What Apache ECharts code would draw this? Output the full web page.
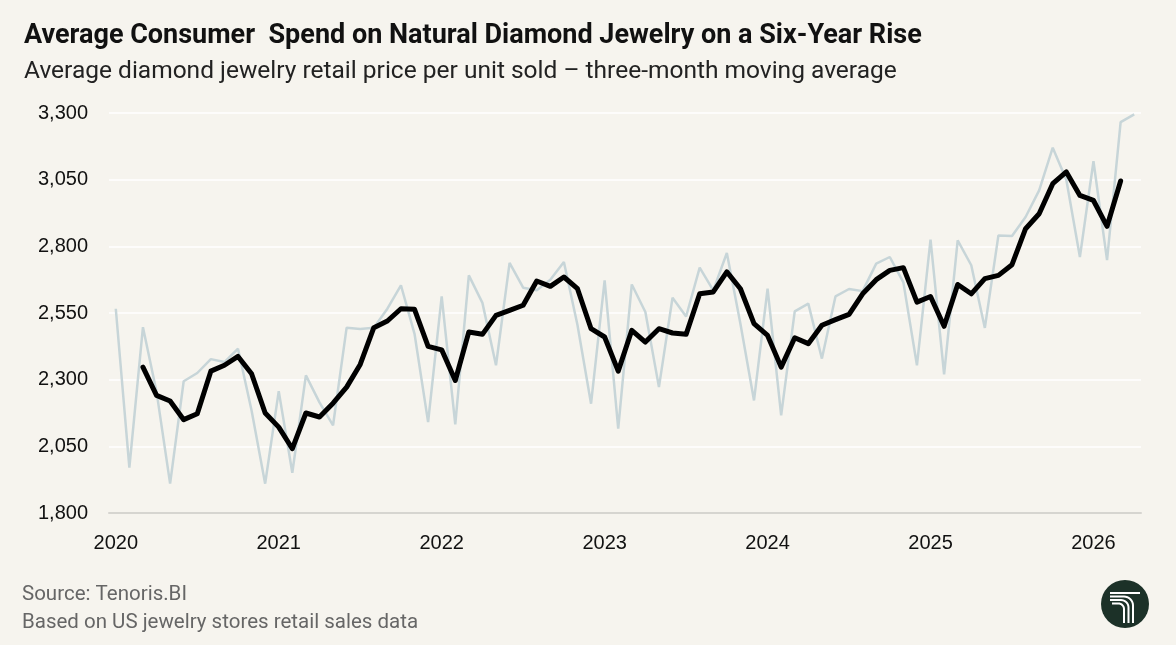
<!DOCTYPE html>
<html>
<head>
<meta charset="utf-8">
<script src="https://cdn.jsdelivr.net/npm/echarts@6/dist/echarts.min.js"></script>
<style>
html,body{margin:0;padding:0;background:#f6f4ee;}
#c{width:1176px;height:645px;}
</style>
</head>
<body>
<div id="c"></div>
<script>
// Months: Jan 2020 .. Apr 2026
const years = [2020, 2021, 2022, 2023, 2024, 2025, 2026];
const months = [];
years.forEach(y => { for (let m = 1; m <= 12; m++) { if (y === 2026 && m > 4) break; months.push(y + '-' + String(m).padStart(2, '0')); } });

// Monthly average retail price per unit (light line)
const monthlyPrice = [
  2566, 1970, 2497, 2255, 1910, 2294, 2325, 2377, 2366, 2416, 2184, 1910,
  2257, 1951, 2316, 2215, 2129, 2495, 2490, 2495, 2566, 2654, 2472, 2141,
  2612, 2132, 2691, 2588, 2354, 2738, 2645, 2635, 2675, 2741, 2505, 2210,
  2672, 2116, 2657, 2554, 2272, 2607, 2537, 2720, 2635, 2775, 2510, 2222,
  2641, 2166, 2556, 2585, 2379, 2612, 2640, 2632, 2735, 2760, 2665, 2354,
  2825, 2320, 2822, 2729, 2494, 2841, 2839, 2910, 3010, 3170, 3050, 2760,
  3119, 2748, 3266, 3295
];

// Three-month moving average (bold line), Mar 2020 .. Mar 2026
const movingAvg = [
  2347, 2241, 2220, 2150, 2172, 2332, 2354, 2387, 2322, 2175,
  2122, 2041, 2175, 2160, 2212, 2272, 2357, 2495, 2520, 2566, 2564, 2425,
  2412, 2297, 2479, 2470, 2541, 2560, 2579, 2670, 2650, 2685, 2641, 2491,
  2460, 2332, 2485, 2441, 2491, 2475, 2470, 2622, 2629, 2704, 2641, 2510,
  2466, 2347, 2457, 2435, 2504, 2525, 2545, 2622, 2675, 2710, 2720, 2591,
  2612, 2500, 2657, 2622, 2679, 2691, 2731, 2866, 2922, 3035, 3079, 2991,
  2972, 2875, 3045
];
const maOffset = [null, null];

const yTicks = { min: 1800, max: 3300, step: 250 };

// logo strokes: horizontal run then quarter-turn down into a vertical stroke
function logoStroke(x0, y, xv, r, yEnd) {
  const pts = [[x0, y]];
  const cx = xv - r, cy = y + r;
  for (let k = 0; k <= 8; k++) {
    const a = -Math.PI / 2 + (Math.PI / 2) * k / 8;
    pts.push([cx + r * Math.cos(a), cy + r * Math.sin(a)]);
  }
  pts.push([xv, yEnd]);
  return { type: 'polyline', shape: { points: pts }, style: { stroke: '#ffffff', lineWidth: 2, fill: null }, z: 10 };
}

const chart = echarts.init(document.getElementById('c'), null, { renderer: 'canvas' });
const FONT = 'Roboto';
const option = {
  backgroundColor: '#f6f4ee',
  animation: false,
  title: [
    { text: 'Average Consumer  Spend on Natural Diamond Jewelry on a Six-Year Rise', left: 24, top: 23, padding: 0,
      textStyle: { fontFamily: FONT, fontSize: 27, fontWeight: 'bold', color: '#111' } },
    { text: 'Average diamond jewelry retail price per unit sold \u2013 three-month moving average', left: 24, top: 59, padding: 0,
      textStyle: { fontFamily: FONT, fontSize: 24.5, fontWeight: 'normal', color: '#222' } },
    { text: 'Source: Tenoris.BI', left: 22, top: 584, padding: 0,
      textStyle: { fontFamily: FONT, fontSize: 20.5, fontWeight: 'normal', color: '#666' } },
    { text: 'Based on US jewelry stores retail sales data', left: 22, top: 612, padding: 0,
      textStyle: { fontFamily: FONT, fontSize: 20.5, fontWeight: 'normal', color: '#666' } }
  ],
  grid: { left: 109, right: 35, top: 113, bottom: 132, containLabel: false },
  xAxis: {
    type: 'category',
    data: months,
    boundaryGap: true,
    axisLine: { show: true, lineStyle: { color: '#d6d5d0', width: 2 } },
    axisTick: { show: false },
    splitLine: { show: false },
    axisLabel: {
      interval: (idx) => idx % 12 === 0,
      formatter: (v) => v.slice(0, 4),
      margin: 20,
      fontFamily: 'Liberation Sans', fontSize: 20, color: '#111'
    }
  },
  yAxis: {
    type: 'value',
    min: yTicks.min, max: yTicks.max, interval: yTicks.step,
    axisLine: { show: false },
    axisTick: { show: false },
    splitLine: { show: true, lineStyle: { color: '#ffffff', width: 1.5 } },
    axisLabel: {
      margin: 21,
      formatter: (v) => v.toLocaleString('en-US'),
      fontFamily: 'Liberation Sans', fontSize: 20, color: '#111'
    }
  },
  series: [
    {
      name: 'Monthly', type: 'line', data: monthlyPrice, showSymbol: false, symbol: 'none',
      lineStyle: { color: '#c7d5d8', width: 2.5 }, z: 2
    },
    {
      name: '3-month MA', type: 'line', data: maOffset.concat(movingAvg), showSymbol: false, symbol: 'none',
      lineStyle: { color: '#000000', width: 5, join: 'round', cap: 'round' }, z: 3
    }
  ],
  graphic: [
    { type: 'circle', shape: { cx: 1125, cy: 604, r: 24 }, style: { fill: '#1c3128' }, z: 9 },
    { type: 'line', shape: { x1: 1110, y1: 593, x2: 1140, y2: 593 }, style: { stroke: '#ffffff', lineWidth: 2 }, z: 10 },
    logoStroke(1110, 596.5, 1133, 9, 623),
    logoStroke(1110, 600, 1128.5, 7.5, 623),
    logoStroke(1112, 603.5, 1124, 5.5, 623)
  ]
};
chart.setOption(option);
</script>
</body>
</html>
